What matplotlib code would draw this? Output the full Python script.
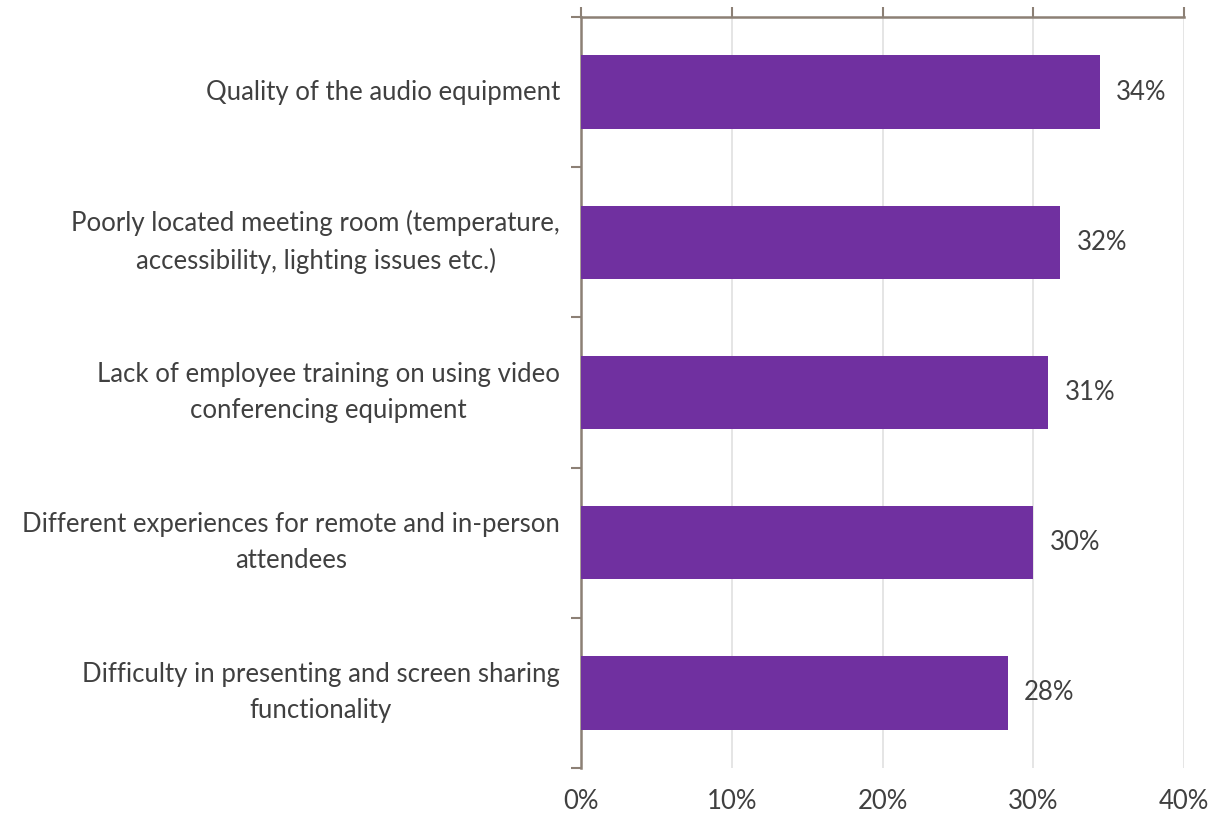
"""Horizontal bar chart: meeting room video conferencing issues."""

import matplotlib
matplotlib.use("Agg")
import matplotlib.pyplot as plt
from matplotlib.ticker import FuncFormatter

CATEGORIES = [
    "Quality of the audio equipment",
    "Poorly located meeting room (temperature,\naccessibility, lighting issues etc.)",
    "Lack of employee training on using video\nconferencing equipment",
    "Different experiences for remote and in-person\nattendees",
    "Difficulty in presenting and screen sharing\nfunctionality",
]
VALUES = [34.4, 31.8, 31.0, 30.0, 28.3]
LABELS = ["34%", "32%", "31%", "30%", "28%"]
XTICKS = [0, 10, 20, 30, 40]

BAR = "#7030A0"
AXIS = "#8C8075"
GRID = "#E3E3E3"
TEXT = "#404040"
FS = 18.5

plt.rcParams.update({"font.family": ["Lato", "DejaVu Sans"], "font.size": FS})

fig = plt.figure(figsize=(12.17, 8.17), dpi=100)
ax = fig.add_axes([581 / 1217, 1 - 768 / 817, (1184 - 581) / 1217, (768 - 17) / 817])

ypos = list(range(len(CATEGORIES)))
ax.barh(ypos, VALUES, height=0.49, color=BAR, zorder=3)
ax.set_xlim(0, 40)
ax.set_ylim(len(CATEGORIES) - 0.5, -0.5)

for y, v, lab in zip(ypos, VALUES, LABELS):
    ax.text(v + 1.1, y, lab, va="center", ha="left", color=TEXT, fontsize=FS)

for y, cat in zip(ypos, CATEGORIES):
    ax.text(-1.4, y, cat, va="center", ha="right", multialignment="center",
            color=TEXT, fontsize=FS, linespacing=1.55)

ax.set_xticks(XTICKS)
ax.xaxis.set_major_formatter(FuncFormatter(lambda x, _: f"{x:.0f}%"))
ax.grid(axis="x", color=GRID, linewidth=1.3, zorder=0)
ax.tick_params(axis="x", which="both", bottom=False, top=True, labelbottom=True,
               labeltop=False, direction="out", length=7, width=1.5, color=AXIS,
               labelcolor=TEXT, labelsize=FS, pad=8)

ax.set_yticks([i - 0.5 for i in range(len(CATEGORIES) + 1)])
ax.set_yticklabels([])
ax.tick_params(axis="y", left=True, direction="out", length=7, width=1.5, color=AXIS)

for side in ["bottom", "right"]:
    ax.spines[side].set_visible(False)
for side in ["top", "left"]:
    ax.spines[side].set_color(AXIS)
    ax.spines[side].set_linewidth(1.8)

fig.savefig("out.png", dpi=100)
